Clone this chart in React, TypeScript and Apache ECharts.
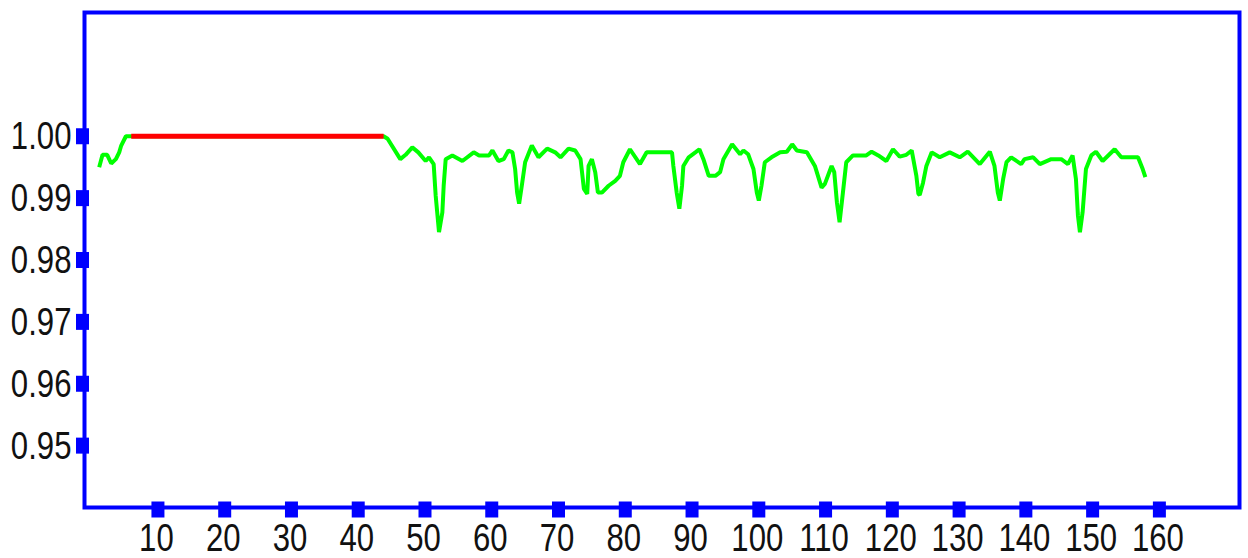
import React, { useEffect, useRef } from "react";
import * as echarts from "echarts";

const xTicks = [10, 20, 30, 40, 50, 60, 70, 80, 90, 100, 110, 120, 130, 140, 150, 160];
const yTicks = [0.95, 0.96, 0.97, 0.98, 0.99, 1.0];

const greenXs = [
  1.2, 1.7, 2.4, 3.0, 3.7, 4.2, 4.5, 5.2, 6.0, 43.8, 44.4, 46.3, 47.1, 48.1, 49.0, 50.1, 50.6, 51.3, 51.6, 52.1,
  52.6, 52.8, 53.1, 54.1, 55.6, 57.3, 58.1, 59.6, 60.1, 61.0, 61.8, 62.5, 63.1, 63.5, 63.8, 64.1, 64.5, 65.0,
  66.0, 67.0, 68.3, 69.5, 70.3, 71.5, 72.5, 73.3, 73.8, 74.3, 74.5, 75.0, 75.5, 75.9, 76.5, 77.5, 78.5, 79.2,
  79.7, 80.7, 82.2, 83.2, 87.0, 87.2, 87.7, 88.1, 88.5, 88.7, 89.5, 90.5, 91.1, 91.7, 92.5, 93.5, 94.2, 94.7,
  96.0, 97.2, 97.7, 98.4, 99.2, 99.7, 100.0, 100.4, 100.9, 101.9, 103.2, 104.2, 105.0, 105.7, 107.2, 108.4,
  109.4, 109.9, 110.9, 111.3, 111.7, 112.1, 112.6, 113.1, 114.1, 116.1, 116.9, 117.9, 119.1, 120.1, 121.1,
  122.1, 122.9, 123.6, 123.9, 124.1, 124.6, 125.1, 125.9, 127.1, 128.6, 130.1, 131.3, 133.1, 134.6, 135.3,
  135.8, 136.1, 136.6, 137.1, 137.8, 139.3, 139.8, 141.1, 142.1, 143.8, 145.3, 146.3, 147.0, 147.5, 147.8,
  148.1, 148.5, 149.0, 149.8, 150.5, 151.5, 153.3, 154.3, 156.8, 157.5, 157.9,
];
const greenYs = [
  0.995, 0.997, 0.997, 0.9956, 0.9963, 0.9974, 0.9985, 1.0, 1.0, 1.0, 0.9996, 0.9963, 0.997, 0.9982, 0.9974,
  0.996, 0.9966, 0.9955, 0.9904, 0.9845, 0.9877, 0.992, 0.9963, 0.9969, 0.996, 0.9974, 0.9969, 0.9969, 0.9977,
  0.996, 0.9963, 0.9977, 0.9974, 0.9947, 0.9909, 0.9891, 0.992, 0.9958, 0.9985, 0.9966, 0.998, 0.9974, 0.9966,
  0.998, 0.9977, 0.9963, 0.9915, 0.9907, 0.9952, 0.9963, 0.9942, 0.9909, 0.9909, 0.992, 0.9928, 0.9936,
  0.9958, 0.9979, 0.9955, 0.9974, 0.9974, 0.9952, 0.9909, 0.9883, 0.992, 0.9952, 0.9966, 0.9974, 0.9979,
  0.9963, 0.9936, 0.9936, 0.9942, 0.9963, 0.9987, 0.9971, 0.9977, 0.9971, 0.9947, 0.9909, 0.9896, 0.992,
  0.9958, 0.9966, 0.9974, 0.9975, 0.9987, 0.9977, 0.9974, 0.9952, 0.9917, 0.9923, 0.9952, 0.9942, 0.9893,
  0.9861, 0.9909, 0.9958, 0.9969, 0.9969, 0.9975, 0.9969, 0.996, 0.9979, 0.9967, 0.997, 0.9977, 0.9936,
  0.9907, 0.9905, 0.9925, 0.9952, 0.9974, 0.9966, 0.9974, 0.9966, 0.9975, 0.9955, 0.9975, 0.9952, 0.9909,
  0.9896, 0.9931, 0.9958, 0.9966, 0.9955, 0.9963, 0.9966, 0.9955, 0.9963, 0.9963, 0.9955, 0.9969, 0.9931,
  0.9872, 0.9845, 0.9877, 0.9947, 0.9969, 0.9975, 0.996, 0.9979, 0.9966, 0.9966, 0.9947, 0.9934,
];

const redXs = [6.0, 43.8];
const redYs = [1.0, 1.0];

const X_MIN = -1;
const X_MAX = 172;
const Y_MIN = 0.94;
const Y_MAX = 1.02;

const FONT = '"Liberation Sans", Arial, sans-serif';
const NARROW = 0.82;

export default function App() {
  const ref = useRef<HTMLDivElement>(null);

  useEffect(() => {
    if (!ref.current) return;
    const chart = echarts.init(ref.current, null, { renderer: "svg" });
    const green = greenXs.map((x, i) => [x, greenYs[i]]);
    const red = redXs.map((x, i) => [x, redYs[i]]);
    chart.setOption({
      animation: false,
      backgroundColor: "#ffffff",
      grid: {
        left: 84.5,
        top: 12.5,
        right: 8.5,
        bottom: 50.5,
        outerBoundsMode: "none",
        containLabel: false,
        show: true,
        borderColor: "#0000ff",
        borderWidth: 4,
        backgroundColor: "transparent",
      },
      xAxis: {
        type: "value",
        min: X_MIN,
        max: X_MAX,
        axisLine: { show: false },
        axisTick: { show: false },
        splitLine: { show: false },
        axisLabel: { show: false },
      },
      yAxis: {
        type: "value",
        min: Y_MIN,
        max: Y_MAX,
        axisLine: { show: false },
        axisTick: { show: false },
        splitLine: { show: false },
        axisLabel: { show: false },
      },
      series: [
        {
          type: "line",
          data: green,
          showSymbol: false,
          lineStyle: { color: "#00ff00", width: 4 },
          z: 3,
        },
        {
          type: "line",
          data: red,
          showSymbol: false,
          lineStyle: { color: "#ff0000", width: 5 },
          z: 4,
        },
        {
          type: "scatter",
          data: xTicks.map((t) => [t, Y_MIN]),
          symbol: "rect",
          symbolSize: [13, 16],
          symbolOffset: [0, 2],
          itemStyle: { color: "#0000ff", opacity: 1 },
          clip: false,
          z: 5,
        },
        {
          type: "scatter",
          data: yTicks.map((t) => [X_MIN, t]),
          symbol: "rect",
          symbolSize: [13, 16],
          symbolOffset: [-2, 0],
          itemStyle: { color: "#0000ff", opacity: 1 },
          clip: false,
          z: 5,
        },
      ],
    });

    const labels: any[] = [];
    xTicks.forEach((t) => {
      const p = chart.convertToPixel({ gridIndex: 0 }, [t, Y_MIN]) as number[];
      labels.push({
        type: "text",
        x: p[0] - 1.5,
        y: p[1] + 11,
        scaleX: NARROW,
        style: {
          text: String(t),
          font: `38px ${FONT}`,
          fill: "#111111",
          align: "center",
          verticalAlign: "top",
        },
      });
    });
    yTicks.forEach((t) => {
      const p = chart.convertToPixel({ gridIndex: 0 }, [X_MIN, t]) as number[];
      labels.push({
        type: "text",
        x: p[0] - 13,
        y: p[1],
        scaleX: NARROW,
        style: {
          text: t.toFixed(2),
          font: `38px ${FONT}`,
          fill: "#111111",
          align: "right",
          verticalAlign: "middle",
        },
      });
    });
    chart.setOption({ graphic: labels });

    return () => chart.dispose();
  }, []);

  return (
    <div
      ref={ref}
      style={{ position: "fixed", left: 0, top: 0, width: 1248, height: 558, background: "#ffffff" }}
    />
  );
}
